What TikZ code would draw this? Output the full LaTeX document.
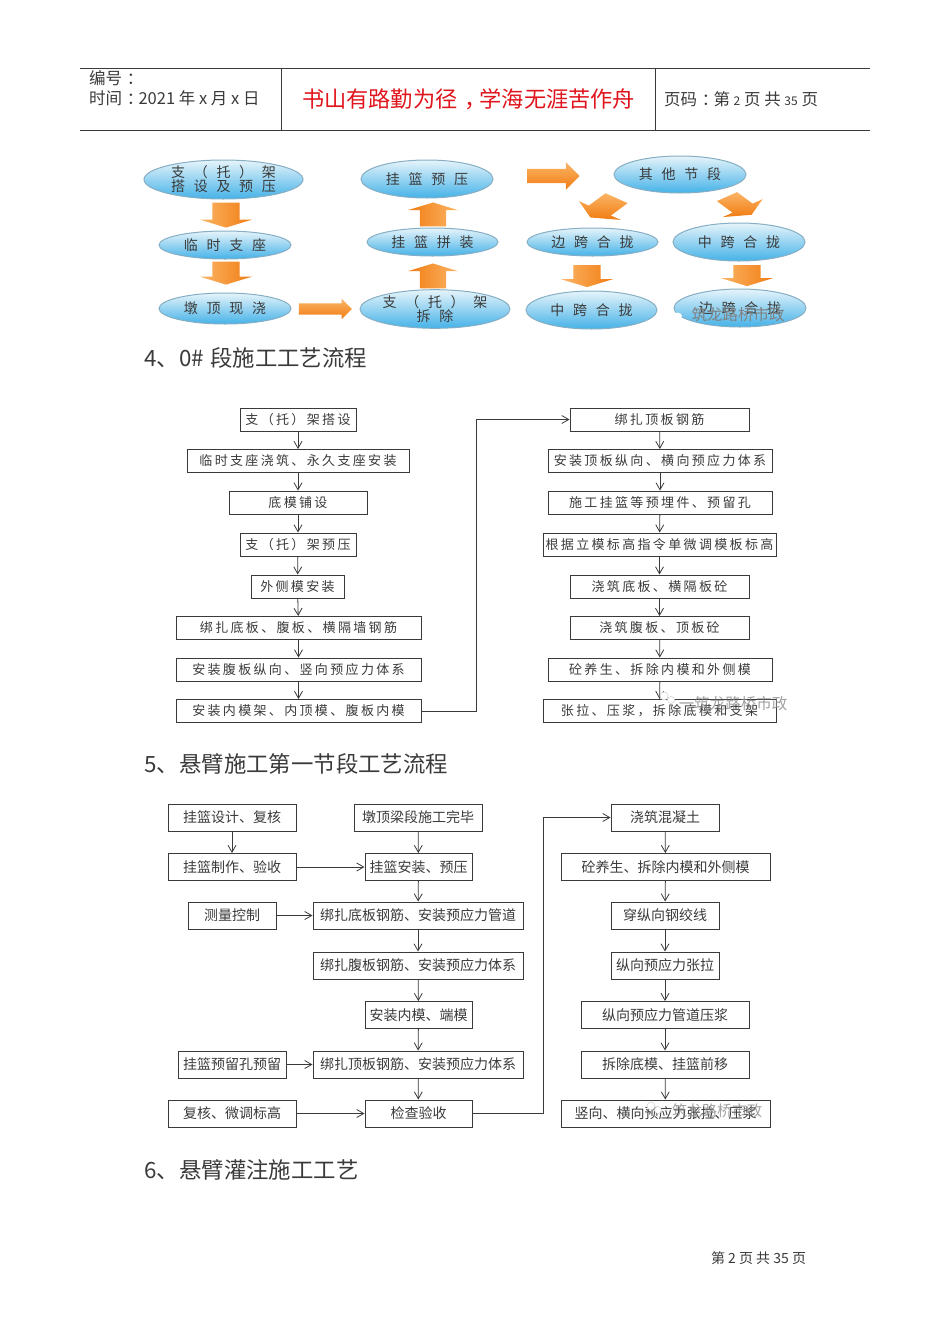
\documentclass[tikz,border=0pt]{standalone}
\usepackage{fontspec}
\setmainfont{Noto Sans CJK SC}
\newfontfamily\flowfont[LetterSpace=18]{Noto Sans CJK SC}
\newfontfamily\ovalfont[LetterSpace=62]{Noto Sans CJK SC}
\usetikzlibrary{shapes.geometric, shapes.arrows, arrows.meta}
\definecolor{inktext}{HTML}{3A3A3A}
\definecolor{headred}{HTML}{E0141C}
\definecolor{ovaltop}{HTML}{E6F4FA}
\definecolor{ovalbot}{HTML}{45B2E8}
\definecolor{ovalrim}{HTML}{86AEC4}
\definecolor{arrowlt}{HTML}{FBB566}
\definecolor{arrowdk}{HTML}{F17C12}
\newcommand{\smallnum}[1]{{\fontsize{12}{12}\selectfont #1}}
\newcommand{\midpunct}[1]{\kern.3em #1\kern-.3em}
\tikzset{
    oval/.style={ellipse, draw=ovalrim, line width=1pt, inner sep=0pt, top color=ovaltop, bottom color=ovalbot,
        text=inktext, align=center, font=\ovalfont\fontsize{14}{13}\selectfont},
    bigarrow/.style={single arrow, inner xsep=0pt, top color=arrowlt, bottom color=arrowdk, draw=none},
    flowbox/.style={rectangle, draw=inktext, line width=1pt, inner sep=0pt, minimum height=23, text=inktext},
    boxa/.style={flowbox, font=\flowfont\fontsize{13}{13}\selectfont},
    boxb/.style={flowbox, minimum height=27, font=\fontsize{14}{14}\selectfont},
    flowline/.style={draw=inktext, line width=0.8pt, -{Straight Barb[length=7pt,width=8pt]}},
    sectitle/.style={anchor=west, text=inktext, font=\fontsize{22.4}{23}\selectfont},
    headtext/.style={anchor=west, text=inktext, font=\fontsize{16.5}{17}\selectfont},
    stamp/.style={text=gray, opacity=0.75},
    stampicon/.style={fill=white, draw=gray!40, line width=0.5pt}
}

\begin{document}
\begin{tikzpicture}[x=1pt, y=-1pt]
    \useasboundingbox (0,0) rectangle (950,1344);

    % Page header
    \draw[line width=0.9pt, inktext] (80,68.5) -- (870,68.5);
    \draw[line width=0.9pt, inktext] (80,130.5) -- (870,130.5);
    \draw[line width=0.6pt, inktext] (281,68.5) -- (281,130.5);
    \draw[line width=0.6pt, inktext] (655,68.5) -- (655,130.5);
    \node[headtext] (serial) at (85.5,78) {编号\midpunct{：}};
    \node[headtext] (datefield) at (85.5,98) {时间\midpunct{：}2021 年 x 月 x 日};
    \node[anchor=center, text=headred, font=\fontsize{22.2}{23}\selectfont] (motto) at (468.5,99) {书山有路勤为径\midpunct{，}学海无涯苦作舟};
    \node[headtext] (pagefield) at (660.5,99) {页码\midpunct{：}第 \smallnum{2} 页 共 \smallnum{35} 页};

    % Overview with ovals
    \node[oval, minimum width=159, minimum height=39] (supA) at (223.5,179.5) {支（托）架\\搭设及预压};
    \node[oval, minimum width=132, minimum height=28] (bearing) at (225,245) {临时支座};
    \node[oval, minimum width=132, minimum height=31] (pier) at (225,308.5) {墩顶现浇};
    \node[oval, minimum width=132, minimum height=38] (preload) at (427,179) {挂篮预压};
    \node[oval, minimum width=131, minimum height=28] (erect) at (432.5,242) {挂篮拼装};
    \node[oval, minimum width=150, minimum height=32] (supB) at (435,309) {支（托）架\\拆除};
    \node[oval, minimum width=132, minimum height=37] (others) at (680,174.5) {其他节段};
    \node[oval, minimum width=131, minimum height=28] (sideA) at (592.5,242) {边跨合拢};
    \node[oval, minimum width=132, minimum height=38] (midA) at (739,242) {中跨合拢};
    \node[oval, minimum width=131, minimum height=38] (midB) at (591.5,310) {中跨合拢};
    \node[oval, minimum width=132, minimum height=38] (sideB) at (740,308) {边跨合拢};

    % Big orange arrows
    \tikzset{
        downshape/.style={bigarrow, left color=arrowlt, right color=arrowdk, rotate=-90, inner ysep=13.5, single arrow head extend=12.5, single arrow tip angle=146},
        upshape/.style={bigarrow, left color=arrowdk, right color=arrowlt, rotate=90, inner ysep=13, single arrow head extend=12, single arrow tip angle=146}
    }
    \node[downshape, minimum height=25] (arrA) at (226,213) {};
    \node[downshape, minimum height=23] (arrB) at (226,271) {};
    \node[bigarrow, inner ysep=5.5, minimum height=53, single arrow head extend=4.5] (arrC) at (322.5,309) {};
    \node[upshape, minimum height=24] (arrD) at (433,216.5) {};
    \node[upshape, minimum height=25] (arrE) at (433,278) {};
    \node[bigarrow, inner ysep=7, minimum height=52, single arrow head extend=6.5] (arrF) at (550,176) {};
    \node[bigarrow, xscale=1.25, yscale=0.72, rotate=-128, inner ysep=11, minimum height=34, single arrow head extend=10, single arrow tip angle=120] (arrG) at (606,206) {};
    \node[bigarrow, xscale=1.25, yscale=0.72, rotate=-52, inner ysep=10, minimum height=32, single arrow head extend=10, single arrow tip angle=120] (arrH) at (737,204) {};
    \node[downshape, minimum height=22] (arrI) at (587,274) {};
    \node[downshape, minimum height=21] (arrJ) at (747,273.5) {};

    % Watermark on the overview
    \node[text=gray, font=\fontsize{15.5}{16}\selectfont] (markA) at (738,314.5) {筑龙路桥市政};
    \fill[white] (668,313) ellipse (6 and 4.5) (677,316) ellipse (5 and 3.5);

    % Section 4
    \node[sectitle] (titleA) at (141,358) {4、0\#\hspace{6pt}段施工工艺流程};

    \node[boxa, minimum width=116] (la) at (298,419.5) {支（托）架搭设};
    \node[boxa, minimum width=222] (lb) at (298,461) {临时支座浇筑、永久支座安装};
    \node[boxa, minimum width=138] (lc) at (298,502.5) {底模铺设};
    \node[boxa, minimum width=116] (ld) at (298,544.5) {支（托）架预压};
    \node[boxa, minimum width=93] (le) at (297.5,586.5) {外侧模安装};
    \node[boxa, minimum width=245] (lf) at (298.5,628) {绑扎底板、腹板、横隔墙钢筋};
    \node[boxa, minimum width=245] (lg) at (298.5,669.5) {安装腹板纵向、竖向预应力体系};
    \node[boxa, minimum width=245] (lh) at (298.5,711) {安装内模架、内顶模、腹板内模};

    \node[boxa, minimum width=179] (ra) at (659.5,419.5) {绑扎顶板钢筋};
    \node[boxa, minimum width=224] (rb) at (660,461) {安装顶板纵向、横向预应力体系};
    \node[boxa, minimum width=224] (rc) at (660,502.5) {施工挂篮等预埋件、预留孔};
    \node[boxa, minimum width=233] (rd) at (659.5,544.5) {根据立模标高指令单微调模板标高};
    \node[boxa, minimum width=179] (re) at (659.5,586.5) {浇筑底板、横隔板砼};
    \node[boxa, minimum width=179] (rf) at (659.5,628) {浇筑腹板、顶板砼};
    \node[boxa, minimum width=224] (rg) at (660,669.5) {砼养生、拆除内模和外侧模};
    \node[boxa, minimum width=233] (rh) at (659.5,711) {张拉、压浆，拆除底模和支架};

    \foreach \from/\to in {la/lb,lb/lc,lc/ld,ld/le,le/lf,lf/lg,lg/lh,ra/rb,rb/rc,rc/rd,rd/re,re/rf,rf/rg,rg/rh}
        \draw[flowline] (\from) -- (\to);
    \coordinate (turnA) at (476,419.5);
    \draw[flowline] (lh.east) -| (turnA) -- (ra.west);

    \path[stampicon] (664,696) circle (4) (671,700) circle (3.5);
    \node[stamp, font=\fontsize{15.5}{16}\selectfont] (markB) at (733,704) {一筑龙路桥市政};

    % Section 5
    \node[sectitle] (titleB) at (141,764) {5、悬臂施工第一节段工艺流程};

    \node[boxb, minimum width=128] (pa) at (232,817.5) {挂篮设计、复核};
    \node[boxb, minimum width=128] (pb) at (232,867) {挂篮制作、验收};
    \node[boxb, minimum width=88] (pc) at (232,915.5) {测量控制};
    \node[boxb, minimum width=108] (pd) at (232,1064.5) {挂篮预留孔预留};
    \node[boxb, minimum width=128] (pe) at (232,1113.5) {复核、微调标高};

    \node[boxb, minimum width=128] (qa) at (418,817.5) {墩顶梁段施工完毕};
    \node[boxb, minimum width=107] (qb) at (418.5,867) {挂篮安装、预压};
    \node[boxb, minimum width=210] (qc) at (418,915.5) {绑扎底板钢筋、安装预应力管道};
    \node[boxb, minimum width=210] (qd) at (418,965.5) {绑扎腹板钢筋、安装预应力体系};
    \node[boxb, minimum width=107] (qe) at (418.5,1015) {安装内模、端模};
    \node[boxb, minimum width=210] (qf) at (418,1064.5) {绑扎顶板钢筋、安装预应力体系};
    \node[boxb, minimum width=107] (qg) at (418.5,1113.5) {检查验收};

    \node[boxb, minimum width=108] (sa) at (665,817.5) {浇筑混凝土};
    \node[boxb, minimum width=209] (sb) at (665.5,867) {砼养生、拆除内模和外侧模};
    \node[boxb, minimum width=108] (sc) at (665,915.5) {穿纵向钢绞线};
    \node[boxb, minimum width=108] (sd) at (665,965.5) {纵向预应力张拉};
    \node[boxb, minimum width=168] (se) at (665,1015) {纵向预应力管道压浆};
    \node[boxb, minimum width=168] (sf) at (665,1064.5) {拆除底模、挂篮前移};
    \node[boxb, minimum width=209] (sg) at (665.5,1113.5) {竖向、横向预应力张拉、压浆};

    \foreach \from/\to in {pa/pb,qa/qb,qb/qc,qc/qd,qd/qe,qe/qf,qf/qg,sa/sb,sb/sc,sc/sd,sd/se,se/sf,sf/sg}
        \draw[flowline] (\from) -- (\to);
    \foreach \from/\to in {pb/qb,pc/qc,pd/qf,pe/qg}
        \draw[flowline] (\from.east) -- (\to.west);
    \coordinate (turnB) at (543.5,817.5);
    \draw[flowline] (qg.east) -| (turnB) -- (sa.west);

    \path[stampicon] (651,1106) circle (4) (658,1110) circle (3.5);
    \node[stamp, font=\fontsize{15}{16}\selectfont] (markC) at (717,1111) {筑龙路桥市政};

    % Section 6 and footer
    \node[sectitle] (titleC) at (141,1170) {6、悬臂灌注施工工艺};
    \node[anchor=center, text=inktext, font=\fontsize{14}{14}\selectfont] (pagefoot) at (758.5,1258) {第 2 页 共 35 页};
\end{tikzpicture}
\end{document}
